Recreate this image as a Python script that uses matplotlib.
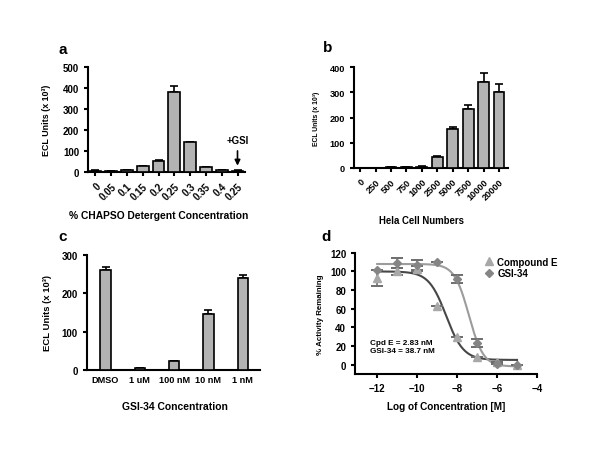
import numpy as np
import matplotlib
matplotlib.use('Agg')
import matplotlib.pyplot as plt
from matplotlib.lines import Line2D

plt.rcParams['font.family'] = ['Liberation Sans', 'DejaVu Sans']
plt.rcParams['font.weight'] = 'bold'
plt.rcParams['axes.labelweight'] = 'bold'

# ---------------- data ----------------
a_labels = ['0', '0.05', '0.1', '0.15', '0.2', '0.25', '0.3', '0.35', '0.4', '0.25']
a_vals = [5, 4, 6, 25, 52, 380, 140, 20, 7, 5]
a_err = [1, 1, 1, 2, 2, 30, 3, 2, 1, 1]

b_labels = ['0', '250', '500', '750', '1000', '2500', '5000', '7500', '10000', '20000']
b_vals = [1, 1, 2, 4, 5, 45, 153, 235, 340, 302]
b_err = [0.5, 0.5, 0.5, 1, 1, 3, 8, 15, 37, 30]

c_labels = ['DMSO', '1 uM', '100 nM', '10 nM', '1 nM']
c_vals = [260, 4, 23, 145, 241]
c_err = [10, 1, 1, 12, 6]

d_x = [-12, -11, -10, -9, -8, -7, -6, -5]
cpde_y = [93, 100, 103, 63, 30, 8, 3, 0]
cpde_err = [9, 4, 3, 0, 0, 0, 0, 0]
gsi_y = [102, 109, 107, 110, 92, 23, 1, 0]
gsi_err = [0, 5, 5, 0, 4, 4, 0, 0]
# 4PL fit parameters: bottom, top, logIC50, hill
cpde_fit = (5, 100, -8.55, 1.0)
gsi_fit = (-2, 108, -7.41, 1.2)

BAR = '#b3b3b3'
LW = 1.5
TICK = 7
XLAB = 7.4
YLAB = 'ECL Units (x 10³)'


def style(ax, size=TICK):
    for s in ['top', 'right']:
        ax.spines[s].set_visible(False)
    for s in ['left', 'bottom']:
        ax.spines[s].set_linewidth(LW)
    ax.tick_params(width=LW, length=3, labelsize=size)


def bars(ax, vals, err, width):
    x = np.arange(len(vals))
    ax.bar(x, vals, width, color=BAR, edgecolor='black', linewidth=1.2, zorder=3)
    ax.errorbar(x, vals, yerr=[np.zeros(len(err)), err], fmt='none',
                ecolor='black', elinewidth=1.2, capsize=3, capthick=1.2, zorder=2)
    return x


fig = plt.figure(figsize=(6, 4.64), dpi=100)

# ---- a ----
ax = fig.add_axes([0.147, 0.628, 0.262, 0.226])
x = bars(ax, a_vals, a_err, 0.75)
ax.set_xlim(-0.45, 9.5)
ax.set_ylim(0, 500)
ax.set_yticks([0, 100, 200, 300, 400, 500])
ax.set_xticks(x)
ax.set_xticklabels(a_labels, rotation=45, ha='right', rotation_mode='anchor')
style(ax)
ax.set_ylabel(YLAB, fontsize=6.4)
ax.yaxis.set_label_coords(-0.235, 0.5)
ax.set_xlabel('% CHAPSO Detergent Concentration', fontsize=XLAB)
ax.xaxis.set_label_coords(0.45, -0.37)
ax.annotate('+GSI', xy=(9, 15), xytext=(9, 125), ha='center', va='bottom', fontsize=7,
            arrowprops=dict(arrowstyle='-|>', color='black', lw=1.2, mutation_scale=8))
fig.text(0.097, 0.893, 'a', fontsize=11, fontweight='bold', va='center')

# ---- b ----
ax = fig.add_axes([0.59, 0.636, 0.257, 0.217])
x = bars(ax, b_vals, b_err, 0.7)
ax.set_xlim(-0.4, 9.6)
ax.set_ylim(0, 400)
ax.set_yticks([0, 100, 200, 300, 400])
ax.set_xticks(x)
ax.set_xticklabels(b_labels, rotation=45, ha='right', rotation_mode='anchor')
style(ax, 6.6)
ax.set_ylabel(YLAB, fontsize=4.9)
ax.yaxis.set_label_coords(-0.22, 0.5)
ax.set_xlabel('Hela Cell Numbers', fontsize=6.9)
ax.xaxis.set_label_coords(0.44, -0.47)
fig.text(0.538, 0.897, 'b', fontsize=11, fontweight='bold', va='center')

# ---- c ----
ax = fig.add_axes([0.145, 0.201, 0.288, 0.247])
x = bars(ax, c_vals, c_err, 0.3)
ax.set_xlim(-0.54, 4.5)
ax.set_ylim(0, 300)
ax.set_yticks([0, 100, 200, 300])
ax.set_xticks(x)
ax.set_xticklabels(c_labels)
style(ax)
ax.tick_params(axis='x', length=0, labelsize=6.6)
ax.set_ylabel(YLAB, fontsize=6.8)
ax.yaxis.set_label_coords(-0.2, 0.5)
ax.set_xlabel('GSI-34 Concentration', fontsize=7.5)
ax.xaxis.set_label_coords(0.51, -0.27)
fig.text(0.097, 0.49, 'c', fontsize=11, fontweight='bold', va='center')

# ---- d ----
ax = fig.add_axes([0.592, 0.192, 0.303, 0.261])
xx = np.linspace(-12, -5, 200)
for (bot, top, ic, h), col in [(cpde_fit, '#474747'), (gsi_fit, '#9c9c9c')]:
    ax.plot(xx, bot + (top - bot) / (1 + 10 ** ((xx - ic) * h)), color=col, lw=1.5, zorder=2)
ax.errorbar(d_x, cpde_y, yerr=cpde_err, fmt='^', color='#a8a8a8', ms=6, ecolor='#6e6e6e',
            elinewidth=1.2, capsize=4.5, capthick=1.4, zorder=3)
ax.errorbar(d_x, gsi_y, yerr=gsi_err, fmt='D', color='#858585', ms=4.5, ecolor='#6e6e6e',
            elinewidth=1.2, capsize=4.5, capthick=1.4, zorder=3)
ax.set_xlim(-13.1, -4)
ax.set_ylim(-10, 120)
ax.set_xticks([-12, -10, -8, -6, -4])
ax.set_yticks([0, 20, 40, 60, 80, 100, 120])
style(ax)
ax.set_ylabel('% Activity Remaining', fontsize=5.7)
ax.yaxis.set_label_coords(-0.17, 0.5)
ax.set_xlabel('Log of Concentration [M]', fontsize=7.2)
ax.xaxis.set_label_coords(0.5, -0.22)
handles = [Line2D([], [], marker='^', ls='none', color='#a8a8a8', ms=6),
           Line2D([], [], marker='D', ls='none', color='#858585', ms=4.5)]
ax.legend(handles, ['Compound E', 'GSI-34'], loc='upper left', bbox_to_anchor=(0.69, 1.0),
          frameon=False, fontsize=7, handletextpad=0.3, labelspacing=0.15, handlelength=1.0,
          borderaxespad=0)
ax.text(0.08, 0.29, 'Cpd E = 2.83 nM\nGSI-34 = 38.7 nM', transform=ax.transAxes,
        fontsize=5.9, va='top', linespacing=1.3)
fig.text(0.535, 0.49, 'd', fontsize=11, fontweight='bold', va='center')

fig.savefig('out.png', dpi=100)
